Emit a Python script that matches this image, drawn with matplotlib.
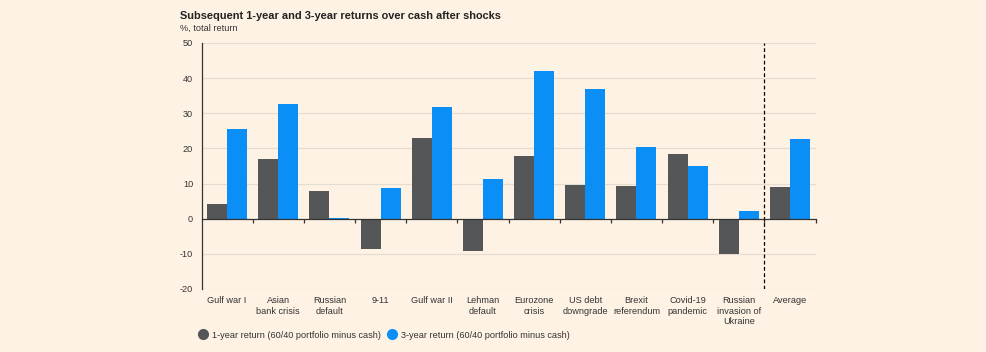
import numpy as np
import matplotlib.pyplot as plt
from matplotlib.lines import Line2D
import matplotlib.transforms as mtransforms

plt.rcParams['font.family'] = ['Liberation Sans', 'DejaVu Sans']

categories = ["Gulf war I", "Asian\nbank crisis", "Russian\ndefault", "9-11",
              "Gulf war II", "Lehman\ndefault", "Eurozone\ncrisis", "US debt\ndowngrade",
              "Brexit\nreferendum", "Covid-19\npandemic", "Russian\ninvasion of\nUkraine",
              "Average"]
one_year = [4.2, 16.9, 8.0, -8.6, 23.0, -9.3, 17.8, 9.5, 9.4, 18.3, -10.1, 9.0]
three_year = [25.6, 32.6, 0.2, 8.6, 31.9, 11.3, 42.0, 37.0, 20.5, 15.1, 2.2, 22.6]
y_ticks = [-20, -10, 0, 10, 20, 30, 40, 50]

bg = '#FEF2E4'
grey = '#555658'
blue = '#0B8EF5'
fs = 6.6

fig = plt.figure(figsize=(9.86, 3.52), dpi=100, facecolor=bg)
ax = fig.add_axes([0.2044, 0.179, 0.6227, 0.6989], facecolor=bg)

x = np.arange(len(categories))
w = 0.39
ax.bar(x - w / 2, one_year, w, color=grey, zorder=3)
ax.bar(x + w / 2, three_year, w, color=blue, zorder=3)

ax.set_xlim(-0.5, len(categories) - 0.5)
ax.set_ylim(-20, 50)
ax.set_yticks(y_ticks)
ax.set_yticklabels([str(t) for t in y_ticks], fontsize=fs, color='#333333')
ax.tick_params(axis='y', length=0, pad=6)
for t in y_ticks:
    if t != 0:
        ax.axhline(t, color='#E5DCD2', lw=0.9, zorder=1)

for s in ['top', 'right']:
    ax.spines[s].set_visible(False)
ax.spines['left'].set_color('#333333')
ax.spines['left'].set_linewidth(0.9)
ax.spines['bottom'].set_position(('data', 0))
ax.spines['bottom'].set_color('#333333')
ax.spines['bottom'].set_linewidth(0.9)
ax.spines['bottom'].set_zorder(4)

ax.set_xticks(x + 0.5)
ax.set_xticklabels([])
ax.tick_params(axis='x', length=3, width=0.9, color='#333333', direction='out')

trans = mtransforms.blended_transform_factory(ax.transData, ax.transAxes)
for i, lab in enumerate(categories):
    ax.text(i, -0.028, lab, transform=trans, ha='center', va='top',
            fontsize=fs, color='#333333', linespacing=1.25)

# separator before Average
ax.axvline(len(categories) - 1.5, color='black', lw=0.9, ls=(0, (3, 2)), zorder=4)

fig.text(0.1825, 0.955, "Subsequent 1-year and 3-year returns over cash after shocks",
         fontsize=7.95, fontweight='bold', color='#222222', va='center')
fig.text(0.1825, 0.919, "%, total return", fontsize=fs, color='#333333', va='center')

handles = [Line2D([], [], marker='o', ls='', color=grey, markersize=7),
           Line2D([], [], marker='o', ls='', color=blue, markersize=7)]
labels = ["1-year return (60/40 portfolio minus cash)",
          "3-year return (60/40 portfolio minus cash)"]
fig.legend(handles, labels, loc='center left', bbox_to_anchor=(0.2015, 0.048),
           ncol=2, frameon=False, fontsize=fs, handletextpad=0.45,
           columnspacing=0.75, handlelength=1.0, borderaxespad=0, borderpad=0,
           labelcolor='#333333')

fig.savefig('out.png', dpi=100, facecolor=bg)
